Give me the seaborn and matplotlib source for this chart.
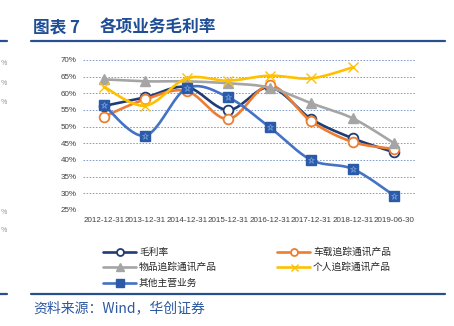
import numpy as np
import pandas as pd
import matplotlib
matplotlib.use("Agg")
import matplotlib.pyplot as plt
import seaborn as sns
from matplotlib.lines import Line2D

# ---- data (gross margin, %) ----
dates = ["2012-12-31", "2013-12-31", "2014-12-31", "2015-12-31",
         "2016-12-31", "2017-12-31", "2018-12-31", "2019-06-30"]
gross_margin = [56.2, 58.8, 61.9, 55.0, 61.8, 52.3, 46.5, 42.3]
vehicle_tracking = [53.0, 58.2, 60.7, 52.3, 62.4, 51.6, 45.4, 43.3]
item_tracking = [64.2, 63.6, 63.6, 63.0, 61.7, 57.0, 52.5, 45.0]
personal_tracking = [62.0, 56.3, 64.5, 63.8, 65.3, 64.5, 67.8, np.nan]
other_business = [56.5, 47.3, 61.5, 58.8, 49.8, 40.0, 37.3, 29.3]

labels = ["毛利率", "车载追踪通讯产品", "物品追踪通讯产品", "个人追踪通讯产品", "其他主营业务"]
y_ticks = [25, 30, 35, 40, 45, 50, 55, 60, 65, 70]

W, H = 454, 326
DPI = 100

sns.set_theme(style="white")
plt.rcParams["font.family"] = ["Noto Sans CJK SC", "DejaVu Sans"]

fig = plt.figure(figsize=(W / DPI, H / DPI), dpi=DPI)
fig.patch.set_facecolor("white")

def fx(px):
    return px / W

def fy(py):
    return 1 - py / H

ax = fig.add_axes([fx(83), fy(210), fx(415) - fx(83), fy(60) - fy(210)])
ax.set_facecolor("white")

x = np.arange(len(dates))


def smooth(xv, yv, n=24):
    """Bezier smoothing through the points (control points at 1/6 of neighbour span)."""
    xv = np.asarray(xv, float)
    yv = np.asarray(yv, float)
    m = ~np.isnan(yv)
    xv, yv = xv[m], yv[m]
    P = np.column_stack([xv, yv])
    out = [P[0]]
    k = len(P)
    for i in range(k - 1):
        p0 = P[i - 1] if i > 0 else P[i]
        p1 = P[i]
        p2 = P[i + 1]
        p3 = P[i + 2] if i + 2 < k else P[i + 1]
        c1 = p1 + (p2 - p0) / 6.0
        c2 = p2 - (p3 - p1) / 6.0
        t = np.linspace(0, 1, n)[1:, None]
        seg = ((1 - t) ** 3) * p1 + 3 * ((1 - t) ** 2) * t * c1 + 3 * (1 - t) * t ** 2 * c2 + t ** 3 * p2
        out.extend(seg)
    out = np.array(out)
    return out[:, 0], out[:, 1]


styles = [
    dict(values=gross_margin, color="#1F3C74", marker="o", mfc="white", mec="#1F3C74", ms=7.0, mew=1.3),
    dict(values=vehicle_tracking, color="#ED7D31", marker="o", mfc="white", mec="#ED7D31", ms=7.0, mew=1.3),
    dict(values=item_tracking, color="#A5A5A5", marker="^", mfc="#A5A5A5", mec="#A5A5A5", ms=7.5, mew=1.0),
    dict(values=personal_tracking, color="#FFC000", marker="x", mfc="#FFC000", mec="#FFC000", ms=7.0, mew=1.0),
    dict(values=other_business, color="#4472C4", marker="s", mfc="#2A5AA8", mec="#2A5AA8", ms=7.5, mew=1.0),
]

for z, (lab, st) in enumerate(zip(labels, styles)):
    sx, sy = smooth(x, st["values"])
    sns.lineplot(x=sx, y=sy, ax=ax, sort=False, estimator=None, color=st["color"],
                 linewidth=1.9, zorder=3 + 2 * z, legend=False)
    ax.plot(x, st["values"], linestyle="none", marker=st["marker"], ms=st["ms"],
            mfc=st["mfc"], mec=st["mec"], mew=st["mew"], zorder=4 + 2 * z)
    if st["marker"] == "s":
        ax.plot(x, st["values"], linestyle="none", marker="*", ms=5, mfc="none",
                mec="#6F97DA", mew=0.6, zorder=4 + 2 * z)

ax.set_xlim(-0.5, len(dates) - 0.5)
ax.set_ylim(25, 70)
ax.set_xticks(x)
ax.set_xticklabels(dates, fontsize=5.8, color="#404040", family="Liberation Sans")
ax.set_yticks(y_ticks)
ax.set_yticklabels([f"{v}%" for v in y_ticks], fontsize=5.8, color="#404040", family="Liberation Sans")
ax.tick_params(axis="both", length=0)
ax.tick_params(axis="x", pad=5)
ax.tick_params(axis="y", pad=4.5)
ax.grid(False)
for v in y_ticks:
    ax.axhline(v, color="#7F9CCB", linewidth=0.7, linestyle=(0, (1.6, 1.6)), zorder=1)
for s in ax.spines.values():
    s.set_visible(False)

# ---- legend (two columns) ----
legend_pos = [(103, 252), (277, 252), (103, 267), (277, 267), (103, 283)]
for (lx, ly), lab, st in zip(legend_pos, labels, styles):
    fig.add_artist(Line2D([fx(lx), fx(lx + 33)], [fy(ly), fy(ly)], transform=fig.transFigure,
                          color=st["color"], linewidth=1.9))
    fig.add_artist(Line2D([fx(lx + 16.5)], [fy(ly)], transform=fig.transFigure, linestyle="none",
                          marker=st["marker"], ms=st["ms"] * 0.72, mfc=st["mfc"], mec=st["mec"],
                          mew=st["mew"]))
    fig.text(fx(lx + 36), fy(ly), lab, fontsize=7, color="#262626", va="center", ha="left")

# ---- header / footer ----
title_color = "#1F4E96"
fig.text(fx(33), fy(27), "图表 7", fontsize=12, fontweight="bold", color=title_color, va="center", ha="left")
fig.text(fx(100), fy(27), "各项业务毛利率", fontsize=12, fontweight="bold", color=title_color,
         va="center", ha="left")
for yy in (40.5, 293.5):
    fig.add_artist(Line2D([fx(31), fx(445)], [fy(yy), fy(yy)], transform=fig.transFigure,
                          color="#2A4F8F", linewidth=1.6))
    fig.add_artist(Line2D([fx(0), fx(7)], [fy(yy), fy(yy)], transform=fig.transFigure,
                          color="#2A4F8F", linewidth=1.6))
fig.text(fx(33), fy(308), "资料来源：Wind，华创证券", fontsize=10, color="#2B58A0",
         style="italic", va="center", ha="left")

# percent signs of the neighbouring panel along the left edge
for yy in (63, 83, 102, 212, 230):
    fig.text(fx(0.5), fy(yy), "%", fontsize=5, color="#8C8C8C", va="center", ha="left")

fig.savefig("out.png", dpi=DPI, facecolor="white")
